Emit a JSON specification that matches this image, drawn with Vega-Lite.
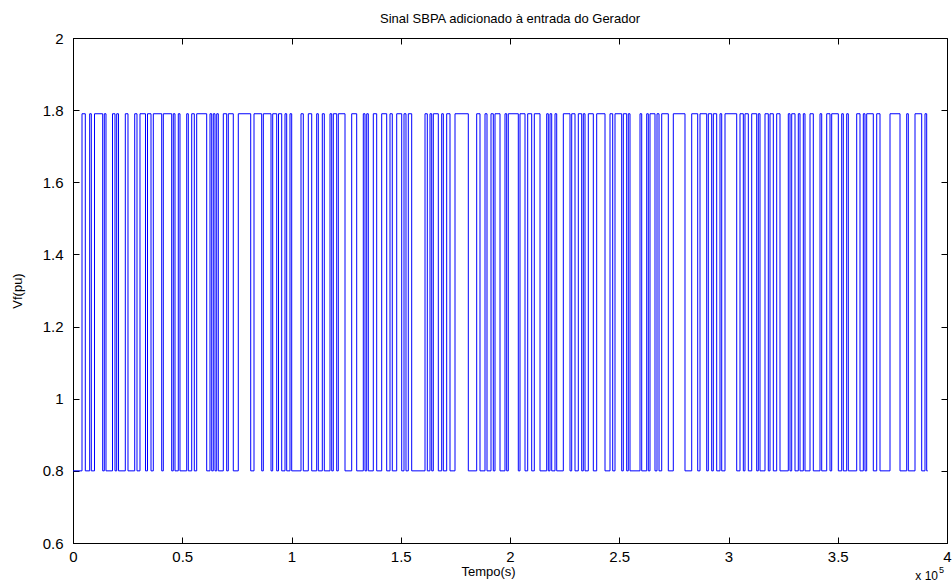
{
  "$schema": "https://vega.github.io/schema/vega-lite/v6.json",
  "width": 874,
  "height": 505,
  "autosize": {"type": "none"},
  "padding": {"left": 73, "top": 38, "right": 5, "bottom": 40},
  "background": "white",
  "title": {"text": "Sinal SBPA adicionado à entrada do Gerador", "font": "Liberation Sans", "fontSize": 13, "fontWeight": "normal", "color": "#000000", "offset": 5},
  "config": {
    "view": {"stroke": "#000000", "strokeWidth": 1},
    "axis": {"labelFont": "Liberation Sans", "labelFontSize": 15, "labelColor": "#000000", "titleFont": "Liberation Sans", "titleFontSize": 13, "titleFontWeight": "normal", "titleColor": "#000000", "grid": false, "domainColor": "#000000", "tickColor": "#000000", "tickSize": -6, "labelPadding": 10}
  },
  "datasets": {
    "transitions": [
      {"t": 0, "v": 0.8}, {"t": 4120, "v": 1.79}, {"t": 5630, "v": 0.8}, {"t": 7640, "v": 1.79}, {"t": 8380, "v": 0.8},
      {"t": 9840, "v": 1.79}, {"t": 13590, "v": 0.8}, {"t": 14330, "v": 1.79}, {"t": 15100, "v": 0.8}, {"t": 18080, "v": 1.79},
      {"t": 19220, "v": 0.8}, {"t": 20000, "v": 1.79}, {"t": 20820, "v": 0.8}, {"t": 23940, "v": 1.79}, {"t": 25170, "v": 0.8},
      {"t": 28240, "v": 1.79}, {"t": 29290, "v": 0.8}, {"t": 30660, "v": 1.79}, {"t": 33180, "v": 0.8}, {"t": 34100, "v": 1.79},
      {"t": 35700, "v": 0.8}, {"t": 36750, "v": 1.79}, {"t": 40600, "v": 0.8}, {"t": 41330, "v": 1.79}, {"t": 45170, "v": 0.8},
      {"t": 45900, "v": 1.79}, {"t": 46680, "v": 0.8}, {"t": 48190, "v": 1.79}, {"t": 48970, "v": 0.8}, {"t": 52040, "v": 1.79},
      {"t": 52770, "v": 0.8}, {"t": 54330, "v": 1.79}, {"t": 55520, "v": 0.8}, {"t": 56610, "v": 1.79}, {"t": 61190, "v": 0.8},
      {"t": 62700, "v": 1.79}, {"t": 63480, "v": 0.8}, {"t": 64210, "v": 1.79}, {"t": 64990, "v": 0.8}, {"t": 65770, "v": 1.79},
      {"t": 66500, "v": 0.8}, {"t": 68790, "v": 1.79}, {"t": 70340, "v": 0.8}, {"t": 71080, "v": 1.79}, {"t": 73360, "v": 0.8},
      {"t": 75650, "v": 1.79}, {"t": 81330, "v": 0.8}, {"t": 82840, "v": 1.79}, {"t": 86360, "v": 0.8}, {"t": 87100, "v": 1.79},
      {"t": 90620, "v": 0.8}, {"t": 91400, "v": 1.79}, {"t": 93230, "v": 0.8}, {"t": 94050, "v": 1.79}, {"t": 95520, "v": 0.8},
      {"t": 97030, "v": 1.79}, {"t": 97800, "v": 0.8}, {"t": 99310, "v": 1.79}, {"t": 100090, "v": 0.8}, {"t": 104350, "v": 1.79},
      {"t": 105400, "v": 0.8}, {"t": 107690, "v": 1.79}, {"t": 109250, "v": 0.8}, {"t": 111530, "v": 1.79}, {"t": 112270, "v": 0.8},
      {"t": 114100, "v": 1.79}, {"t": 115010, "v": 0.8}, {"t": 117620, "v": 1.79}, {"t": 118400, "v": 0.8}, {"t": 119130, "v": 1.79},
      {"t": 120690, "v": 0.8}, {"t": 121420, "v": 1.79}, {"t": 124490, "v": 0.8}, {"t": 127550, "v": 1.79}, {"t": 129840, "v": 0.8},
      {"t": 132860, "v": 1.79}, {"t": 133640, "v": 0.8}, {"t": 134420, "v": 1.79}, {"t": 135150, "v": 0.8}, {"t": 137440, "v": 1.79},
      {"t": 138990, "v": 0.8}, {"t": 141280, "v": 1.79}, {"t": 143570, "v": 0.8}, {"t": 145080, "v": 1.79}, {"t": 146130, "v": 0.8},
      {"t": 148150, "v": 1.79}, {"t": 150440, "v": 0.8}, {"t": 151490, "v": 1.79}, {"t": 152400, "v": 0.8}, {"t": 153460, "v": 1.79},
      {"t": 155010, "v": 0.8}, {"t": 161100, "v": 1.79}, {"t": 162150, "v": 0.8}, {"t": 163390, "v": 1.79}, {"t": 164170, "v": 0.8},
      {"t": 164900, "v": 1.79}, {"t": 167190, "v": 0.8}, {"t": 168740, "v": 1.79}, {"t": 169480, "v": 0.8}, {"t": 171030, "v": 1.79},
      {"t": 172540, "v": 0.8}, {"t": 174830, "v": 1.79}, {"t": 180920, "v": 0.8}, {"t": 184760, "v": 1.79}, {"t": 186270, "v": 0.8},
      {"t": 188560, "v": 1.79}, {"t": 189480, "v": 0.8}, {"t": 191310, "v": 1.79}, {"t": 192360, "v": 0.8}, {"t": 193140, "v": 1.79},
      {"t": 195430, "v": 0.8}, {"t": 197710, "v": 1.79}, {"t": 198490, "v": 0.8}, {"t": 199220, "v": 1.79}, {"t": 203800, "v": 0.8},
      {"t": 204580, "v": 1.79}, {"t": 206870, "v": 0.8}, {"t": 208100, "v": 1.79}, {"t": 209930, "v": 0.8}, {"t": 211120, "v": 1.79},
      {"t": 213730, "v": 0.8}, {"t": 216800, "v": 1.79}, {"t": 217530, "v": 0.8}, {"t": 218310, "v": 1.79}, {"t": 219090, "v": 0.8},
      {"t": 220600, "v": 1.79}, {"t": 221380, "v": 0.8}, {"t": 224400, "v": 1.79}, {"t": 227460, "v": 0.8}, {"t": 228240, "v": 1.79},
      {"t": 229750, "v": 0.8}, {"t": 231260, "v": 1.79}, {"t": 232820, "v": 0.8}, {"t": 233550, "v": 1.79}, {"t": 234330, "v": 0.8},
      {"t": 235840, "v": 1.79}, {"t": 238130, "v": 0.8}, {"t": 239680, "v": 1.79}, {"t": 243480, "v": 0.8}, {"t": 245770, "v": 1.79},
      {"t": 247000, "v": 0.8}, {"t": 248060, "v": 1.79}, {"t": 251120, "v": 0.8}, {"t": 251860, "v": 1.79}, {"t": 253410, "v": 0.8},
      {"t": 254140, "v": 1.79}, {"t": 254920, "v": 0.8}, {"t": 259500, "v": 1.79}, {"t": 260280, "v": 0.8}, {"t": 262570, "v": 1.79},
      {"t": 263300, "v": 0.8}, {"t": 264080, "v": 1.79}, {"t": 266360, "v": 0.8}, {"t": 267280, "v": 1.79}, {"t": 268200, "v": 0.8},
      {"t": 269430, "v": 1.79}, {"t": 272450, "v": 0.8}, {"t": 274740, "v": 1.79}, {"t": 280090, "v": 0.8}, {"t": 283160, "v": 1.79},
      {"t": 285910, "v": 0.8}, {"t": 286960, "v": 1.79}, {"t": 290030, "v": 0.8}, {"t": 290760, "v": 1.79}, {"t": 292310, "v": 0.8},
      {"t": 293050, "v": 1.79}, {"t": 294600, "v": 0.8}, {"t": 296110, "v": 1.79}, {"t": 296890, "v": 0.8}, {"t": 298400, "v": 1.79},
      {"t": 303760, "v": 0.8}, {"t": 305270, "v": 1.79}, {"t": 306780, "v": 0.8}, {"t": 307550, "v": 1.79}, {"t": 309070, "v": 0.8},
      {"t": 310620, "v": 1.79}, {"t": 312910, "v": 0.8}, {"t": 313640, "v": 1.79}, {"t": 314420, "v": 0.8}, {"t": 316710, "v": 1.79},
      {"t": 318220, "v": 0.8}, {"t": 319000, "v": 1.79}, {"t": 320510, "v": 0.8}, {"t": 322060, "v": 1.79}, {"t": 323570, "v": 0.8},
      {"t": 327370, "v": 1.79}, {"t": 328150, "v": 0.8}, {"t": 328930, "v": 1.79}, {"t": 330440, "v": 0.8}, {"t": 331950, "v": 1.79},
      {"t": 332730, "v": 0.8}, {"t": 334240, "v": 1.79}, {"t": 335010, "v": 0.8}, {"t": 337300, "v": 1.79}, {"t": 338810, "v": 0.8},
      {"t": 341880, "v": 1.79}, {"t": 342660, "v": 0.8}, {"t": 344950, "v": 1.79}, {"t": 346460, "v": 0.8}, {"t": 347230, "v": 1.79},
      {"t": 350260, "v": 0.8}, {"t": 351810, "v": 1.79}, {"t": 352540, "v": 0.8}, {"t": 354100, "v": 1.79}, {"t": 354830, "v": 0.8},
      {"t": 358680, "v": 1.79}, {"t": 360190, "v": 0.8}, {"t": 361700, "v": 1.79}, {"t": 362470, "v": 0.8}, {"t": 363250, "v": 1.79},
      {"t": 366270, "v": 0.8}, {"t": 367830, "v": 1.79}, {"t": 369340, "v": 0.8}, {"t": 373920, "v": 1.79}, {"t": 378490, "v": 0.8},
      {"t": 381560, "v": 1.79}, {"t": 382290, "v": 0.8}, {"t": 385360, "v": 1.79}, {"t": 388420, "v": 0.8}, {"t": 389930, "v": 1.79},
      {"t": 390710, "v": 0.8}, {"t": 391200, "v": 0.8}
    ],
    "multiplier": [{"base": "x 10", "exp": "5"}]
  },
  "layer": [
    {
      "data": {"name": "transitions"},
      "mark": {"type": "line", "interpolate": "step-after", "color": "#0000ff", "strokeWidth": 1, "clip": true},
      "encoding": {
        "x": {"field": "t", "type": "quantitative", "scale": {"domain": [0, 400000], "nice": false, "zero": false},
              "axis": {"values": [0, 50000, 100000, 150000, 200000, 250000, 300000, 350000, 400000], "labelExpr": "datum.value / 100000", "title": "Tempo(s)", "titlePadding": 1, "titleX": 415, "labelPadding": 12, "labelFlush": false}},
        "y": {"field": "v", "type": "quantitative", "scale": {"domain": [0.6, 2], "nice": false, "zero": false},
              "axis": {"values": [0.6, 0.8, 1, 1.2, 1.4, 1.6, 1.8, 2], "labelExpr": "datum.value", "title": "Vf(pu)", "titlePadding": 18, "labelPadding": 16, "labelFlush": false}}
      }
    },
    {
      "data": {"name": "multiplier"},
      "layer": [
        {
          "mark": {"type": "text", "font": "Liberation Sans", "fontSize": 12, "color": "#000000", "align": "right", "baseline": "top", "dy": 28, "dx": -9},
          "encoding": {
            "x": {"datum": 400000, "type": "quantitative", "scale": {"domain": [0, 400000], "nice": false}, "axis": {"orient": "top", "values": [0, 50000, 100000, 150000, 200000, 250000, 300000, 350000, 400000], "labels": false, "title": null, "domain": false}},
            "y": {"datum": 0.6, "type": "quantitative", "scale": {"domain": [0.6, 2], "nice": false, "zero": false}, "axis": {"orient": "right", "values": [0.6, 0.8, 1, 1.2, 1.4, 1.6, 1.8, 2], "labels": false, "title": null, "domain": false}},
            "text": {"field": "base"}
          }
        },
        {
          "mark": {"type": "text", "font": "Liberation Sans", "fontSize": 9, "color": "#000000", "align": "left", "baseline": "top", "dy": 23, "dx": -8},
          "encoding": {
            "x": {"datum": 400000, "type": "quantitative"},
            "y": {"datum": 0.6, "type": "quantitative"},
            "text": {"field": "exp"}
          }
        }
      ]
    }
  ],
  "resolve": {"axis": {"x": "independent", "y": "independent"}}
}
